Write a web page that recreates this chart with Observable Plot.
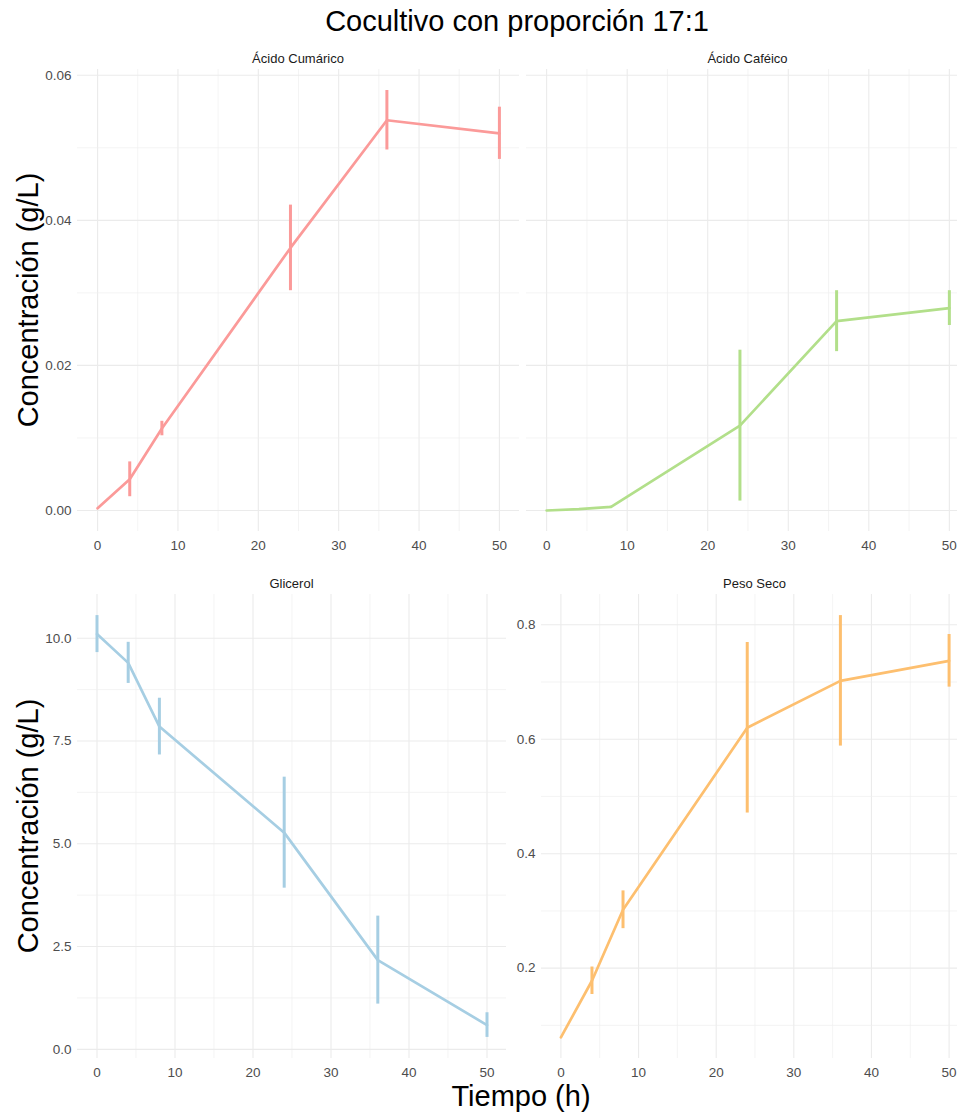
<!DOCTYPE html>
<html><head><meta charset="utf-8">
<script src="https://cdn.jsdelivr.net/npm/d3@7"></script>
<script src="https://cdn.jsdelivr.net/npm/@observablehq/plot@0.6"></script>
<style>
body{margin:0;background:#fff;}
#chart{position:relative;width:957px;height:1114px;overflow:hidden;background:#fff;font-family:"Liberation Sans",Arial,sans-serif;}
.abs{position:absolute;}
.abs svg{max-width:none !important;display:block;}
.strip{position:absolute;font-size:13px;color:#1a1a1a;transform:translate(-50%,-50%);white-space:nowrap;}
.big{position:absolute;font-size:29px;color:#000;white-space:nowrap;transform:translate(-50%,-50%);}
</style></head><body><div id="chart"></div><script>
// ---- data ----
const tiempo = [0, 4, 8, 24, 36, 50];
const cumaricoMedia = [0.0003, 0.0043, 0.0113, 0.0362, 0.0538, 0.0520];
const cumaricoDE    = [0.0000, 0.0024, 0.0010, 0.0059, 0.0041, 0.0036];
const cafeicoMedia  = [0.0000, 0.0002, 0.0005, 0.0117, 0.0261, 0.0279];
const cafeicoDE     = [0.0000, 0.0000, 0.0001, 0.0104, 0.0042, 0.0024];
const glicerolMedia = [10.10, 9.40, 7.85, 5.27, 2.17, 0.59];
const glicerolDE    = [0.45, 0.50, 0.69, 1.35, 1.07, 0.30];
const pesoMedia     = [0.079, 0.178, 0.302, 0.620, 0.702, 0.737];
const pesoDE        = [0.000, 0.024, 0.033, 0.149, 0.114, 0.046];

const panelNames = ["Ácido Cumárico", "Ácido Caféico", "Glicerol", "Peso Seco"];
const colores = ["#FB9A99", "#B2DF8A", "#A6CEE3", "#FDBF6F"];

const xTicks = [0, 10, 20, 30, 40, 50];
const xMinor = [5, 15, 25, 35, 45];
const yTicksTop = [0, 0.02, 0.04, 0.06];
const yMinorTop = [0.01, 0.03, 0.05];
const yTicksGlic = [0, 2.5, 5, 7.5, 10];
const yMinorGlic = [1.25, 3.75, 6.25, 8.75];
const yTicksPeso = [0.2, 0.4, 0.6, 0.8];
const yMinorPeso = [0.1, 0.3, 0.5, 0.7];

const titulo = "Cocultivo con proporción 17:1";
const yTitulo = "Concentración (g/L)";
const xTitulo = "Tiempo (h)";

// ---- helpers ----
const rows = (m, s) => tiempo.map((t, i) => ({t, v: m[i], lo: m[i] - s[i], hi: m[i] + s[i]}));
const expand = (arrs) => {
  const lo = d3.min(arrs.flatMap(r => r.map(d => d.lo)));
  const hi = d3.max(arrs.flatMap(r => r.map(d => d.hi)));
  const p = (hi - lo) * 0.05;
  return [lo - p, hi + p];
};
const xDom = (() => { const p = (d3.max(tiempo) - d3.min(tiempo)) * 0.05; return [d3.min(tiempo) - p, d3.max(tiempo) + p]; })();

const dCum = rows(cumaricoMedia, cumaricoDE);
const dCaf = rows(cafeicoMedia, cafeicoDE);
const dGli = rows(glicerolMedia, glicerolDE);
const dPes = rows(pesoMedia, pesoDE);
const topDom = expand([dCum, dCaf]);

const chart = document.getElementById("chart");
const FONT = '"Liberation Sans", Arial, sans-serif';

function panel(o) {
  const marks = [
    Plot.ruleX(xMinor, {stroke: "#efefef", strokeWidth: 0.7}),
    Plot.ruleX(xTicks, {stroke: "#ebebeb", strokeWidth: 1.1}),
    Plot.ruleY(o.yMinor, {stroke: "#efefef", strokeWidth: 0.7}),
    Plot.ruleY(o.yTicks, {stroke: "#ebebeb", strokeWidth: 1.1}),
    Plot.axisX(xTicks, {tickSize: 0, tickPadding: 9, label: null, fill: "#4d4d4d", fontSize: 13.5, tickFormat: d3.format("d")}),
    Plot.line(o.data, {x: "t", y: "v", stroke: o.color, strokeWidth: 2.7}),
    Plot.ruleX(o.data, {x: "t", y1: "lo", y2: "hi", stroke: o.color, strokeWidth: 3})
  ];
  if (o.showY) marks.push(Plot.axisY(o.yTicks, {tickSize: 0, tickPadding: 6, label: null, fill: "#4d4d4d", fontSize: 13.5, tickFormat: d3.format(o.fmt)}));
  const svg = Plot.plot({
    width: o.width, height: o.height,
    marginLeft: o.mL, marginRight: o.mR, marginTop: o.mT, marginBottom: o.mB,
    x: {domain: xDom},
    y: {domain: o.yDom, axis: o.showY ? undefined : null},
    style: {fontFamily: FONT, background: "transparent", overflow: "visible", maxWidth: "none"},
    marks
  });
  const wrap = document.createElement("div");
  wrap.className = "abs";
  wrap.style.left = o.left + "px";
  wrap.style.top = o.top + "px";
  wrap.style.width = o.width + "px";
  wrap.style.height = o.height + "px";
  wrap.appendChild(svg);
  chart.appendChild(wrap);
  const s = document.createElement("div");
  s.className = "strip";
  s.textContent = o.name;
  s.style.left = (o.left + o.mL + (o.width - o.mL - o.mR) / 2) + "px";
  s.style.top = o.stripY + "px";
  chart.appendChild(s);
}

panel({name: panelNames[0], data: dCum, color: colores[0], yDom: topDom, yTicks: yTicksTop, yMinor: yMinorTop, fmt: ".2f", showY: true,
  left: 0, top: 40, width: 522, height: 521, mL: 77, mR: 3, mT: 29, mB: 30, stripY: 58});
panel({name: panelNames[1], data: dCaf, color: colores[1], yDom: topDom, yTicks: yTicksTop, yMinor: yMinorTop, fmt: ".2f", showY: false,
  left: 500, top: 40, width: 470, height: 521, mL: 26, mR: 1, mT: 29, mB: 30, stripY: 58});
panel({name: panelNames[2], data: dGli, color: colores[2], yDom: expand([dGli]), yTicks: yTicksGlic, yMinor: yMinorGlic, fmt: ".1f", showY: true,
  left: 0, top: 570, width: 508, height: 518, mL: 77, mR: 2, mT: 24, mB: 30, stripY: 583});
panel({name: panelNames[3], data: dPes, color: colores[3], yDom: expand([dPes]), yTicks: yTicksPeso, yMinor: yMinorPeso, fmt: ".1f", showY: true,
  left: 500, top: 570, width: 469, height: 518, mL: 41, mR: 1, mT: 24, mB: 30, stripY: 583});

function big(text, x, y, rot) {
  const d = document.createElement("div");
  d.className = "big";
  d.textContent = text;
  d.style.left = x + "px";
  d.style.top = y + "px";
  if (rot) d.style.transform = "translate(-50%,-50%) rotate(-90deg)";
  chart.appendChild(d);
}
big(titulo, 517, 21, false);
big(yTitulo, 28, 300, true);
big(yTitulo, 28, 826, true);
big(xTitulo, 521, 1096, false);
</script></body></html>
